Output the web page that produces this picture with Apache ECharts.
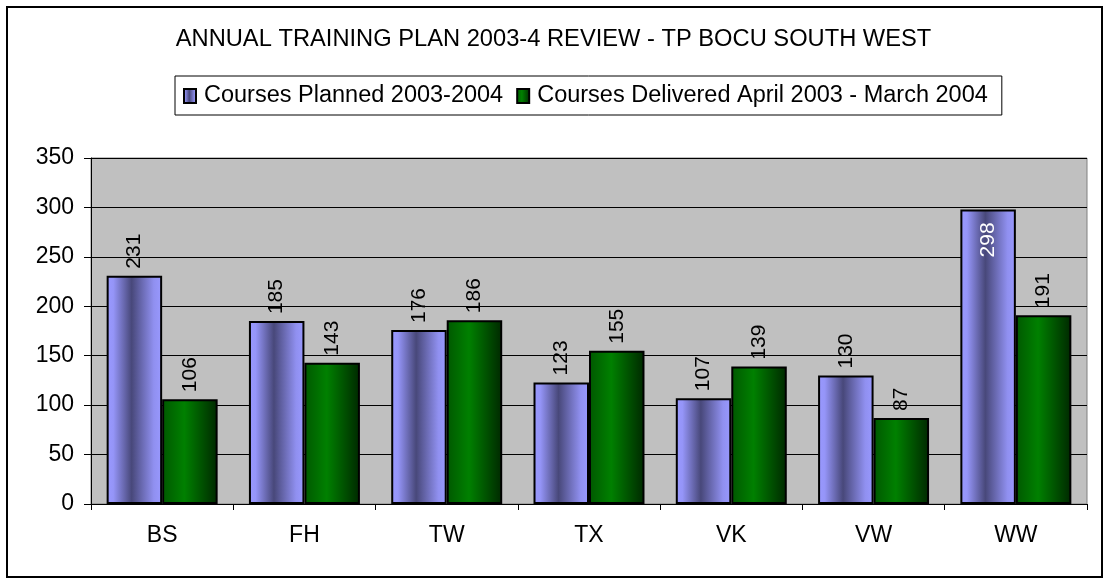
<!DOCTYPE html>
<html lang="en">
<head>
    <meta charset="UTF-8">
    <title>Annual Training Plan 2003-4 Review</title>
    <script src="https://cdn.jsdelivr.net/npm/echarts@6/dist/echarts.min.js"></script>
    <style>
        html, body { margin: 0; padding: 0; background: #fff; }
        #frame {
            position: absolute; left: 6px; top: 6px;
            width: 1093px; height: 568px;
            border: 2px solid #000;
        }
        #main { position: absolute; left: 0; top: 0; width: 1107px; height: 581px; }
    </style>
</head>
<body>
<div id="frame"></div>
<div id="main"></div>
<script type="text/javascript">
    var categories = ['BS', 'FH', 'TW', 'TX', 'VK', 'VW', 'WW'];
    var planned = [231, 185, 176, 123, 107, 130, 298];
    var delivered = [106, 143, 186, 155, 139, 87, 191];
    var seriesNames = ['Courses Planned 2003-2004', 'Courses Delivered April 2003 - March 2004'];

    var font = 'Liberation Sans, Arial, sans-serif';

    // 立体感的横向渐变
    var blueFill = new echarts.graphic.LinearGradient(0, 0, 1, 0, [
        {offset: 0, color: '#9999ff'},
        {offset: 0.12, color: '#9595f8'},
        {offset: 0.45, color: '#48487a'},
        {offset: 0.85, color: '#9090f0'},
        {offset: 1, color: '#9999ff'}
    ]);
    var greenFill = new echarts.graphic.LinearGradient(0, 0, 1, 0, [
        {offset: 0, color: '#005800'},
        {offset: 0.4, color: '#008000'},
        {offset: 1, color: '#002800'}
    ]);

    var labelStyle = {
        show: true,
        position: 'top',
        rotate: 90,
        align: 'left',
        verticalAlign: 'middle',
        distance: 7,
        color: '#000',
        fontFamily: font,
        fontSize: 21
    };

    // 超出顶部的数值放在柱子里面，白色
    var plannedData = planned.map(function (v) {
        if (v > 280) {
            return {
                value: v,
                label: {position: 'insideTop', align: 'right', color: '#fff', distance: 13}
            };
        }
        return v;
    });

    var myChart = echarts.init(document.getElementById('main'));
    var option = {
        animation: false,
        title: {
            text: 'ANNUAL TRAINING PLAN 2003-4 REVIEW - TP BOCU SOUTH WEST',
            left: 'center',
            top: 22,
            textStyle: {fontFamily: font, fontSize: 23.7, fontWeight: 'normal', color: '#000'}
        },
        legend: {
            top: 76,
            left: 175,
            padding: [8, 14, 7, 8],
            borderColor: '#000',
            borderWidth: 1,
            icon: 'rect',
            itemWidth: 12,
            itemHeight: 14,
            itemGap: 13,
            textStyle: {fontFamily: font, fontSize: 23.5, color: '#000', padding: [0, 0, 0, 3]},
            data: [
                {name: seriesNames[0], itemStyle: {color: blueFill, borderColor: '#000', borderWidth: 2}},
                {name: seriesNames[1], itemStyle: {color: greenFill, borderColor: '#000', borderWidth: 2}}
            ]
        },
        grid: {
            left: 91,
            right: 20,
            top: 158,
            bottom: 77,
            show: true,
            backgroundColor: '#c0c0c0',
            borderColor: '#808080',
            borderWidth: 1
        },
        xAxis: {
            type: 'category',
            data: categories,
            axisLine: {lineStyle: {color: '#000', width: 1}},
            axisTick: {show: true, length: 6, lineStyle: {color: '#000'}},
            axisLabel: {fontFamily: font, fontSize: 23, color: '#000', margin: 20}
        },
        yAxis: {
            type: 'value',
            min: 0,
            max: 350,
            interval: 50,
            axisLine: {show: true, lineStyle: {color: '#000'}},
            axisTick: {show: true, length: 7, lineStyle: {color: '#000'}},
            axisLabel: {fontFamily: font, fontSize: 23, color: '#000', margin: 17},
            splitLine: {lineStyle: {color: '#000', width: 1}}
        },
        series: [
            {
                name: seriesNames[0],
                type: 'bar',
                data: plannedData,
                barGap: '0%',
                barCategoryGap: '22%',
                itemStyle: {color: blueFill, borderColor: '#000', borderWidth: 2},
                label: labelStyle
            },
            {
                name: seriesNames[1],
                type: 'bar',
                data: delivered,
                itemStyle: {color: greenFill, borderColor: '#000', borderWidth: 2},
                label: labelStyle
            }
        ]
    };
    myChart.setOption(option);
</script>
</body>
</html>
